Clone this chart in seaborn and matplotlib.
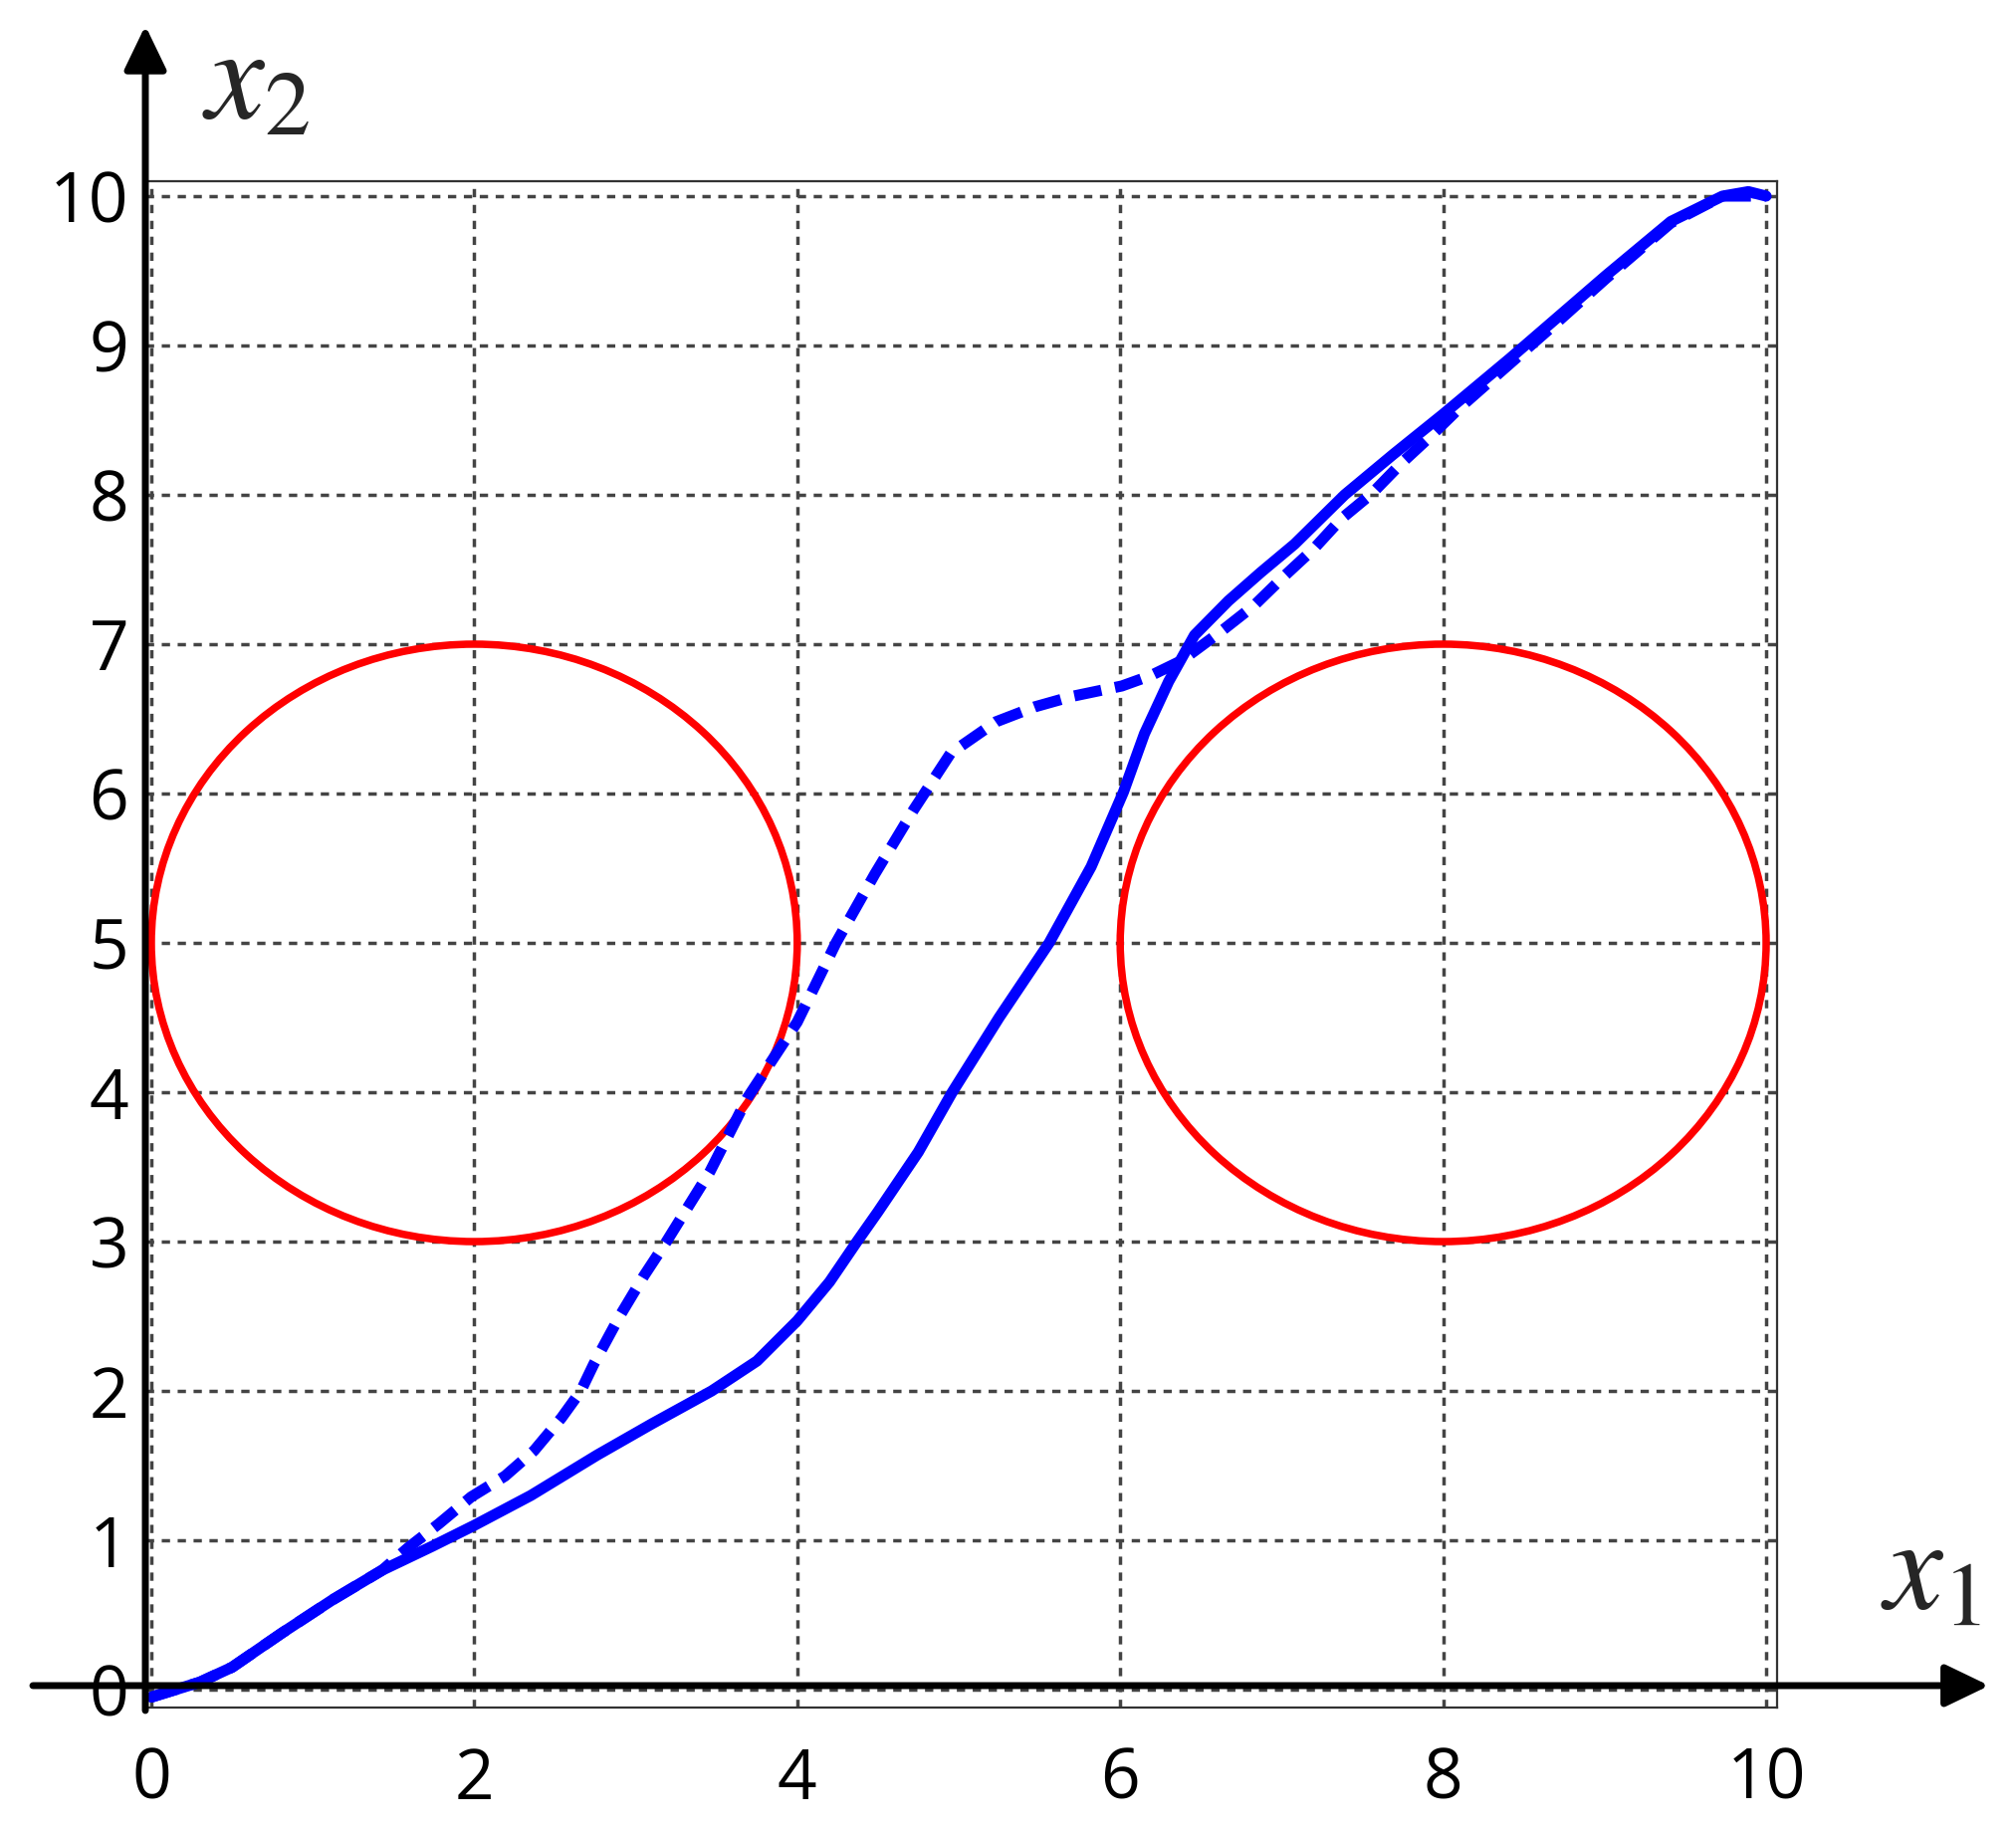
import matplotlib
matplotlib.use('Agg')
import matplotlib.pyplot as plt
from matplotlib.patches import Circle
import pandas as pd
import seaborn as sns

# trajectories (solid and dashed)
solid_x = [0.0, 0.3, 0.5, 0.81, 1.12, 1.43, 1.74, 2.0, 2.35, 2.76, 3.1, 3.47, 3.75,
           4.0, 4.2, 4.37, 4.5, 4.75, 4.96, 5.25, 5.56, 5.82, 6.02, 6.15, 6.3,
           6.46, 6.67, 6.87, 7.08, 7.39, 7.69, 8.0, 8.41, 9.01, 9.41, 9.73, 9.89, 10.0]
solid_y = [-0.05, 0.05, 0.15, 0.38, 0.6, 0.8, 0.96, 1.1, 1.3, 1.57, 1.78, 2.0, 2.2,
           2.47, 2.73, 3.0, 3.2, 3.6, 4.0, 4.5, 5.0, 5.51, 6.01, 6.4, 6.75,
           7.06, 7.29, 7.48, 7.67, 8.0, 8.27, 8.54, 8.91, 9.47, 9.83, 10.0, 10.03, 10.0]

dash_x = [0.0, 0.3, 0.5, 0.81, 1.12, 1.43, 1.59, 1.78, 1.98, 2.19, 2.37, 2.54, 2.66,
          2.74, 2.9, 3.05, 3.19, 3.46, 3.69, 4.0, 4.24, 4.48, 4.72, 4.95, 5.23,
          5.47, 5.7, 6.01, 6.19, 6.38, 6.63, 6.83, 7.02, 7.2, 7.37, 7.56, 7.74,
          7.92, 8.1, 8.31, 8.7, 9.01, 9.41, 9.73, 10.0]
dash_y = [-0.05, 0.05, 0.15, 0.38, 0.6, 0.8, 0.95, 1.11, 1.29, 1.43, 1.6, 1.82, 2.0,
          2.18, 2.5, 2.77, 3.0, 3.47, 3.96, 4.47, 5.0, 5.46, 5.89, 6.27, 6.48,
          6.58, 6.65, 6.72, 6.79, 6.89, 7.09, 7.26, 7.46, 7.64, 7.84, 8.01, 8.21,
          8.39, 8.58, 8.78, 9.15, 9.45, 9.82, 10.0, 10.0]

# obstacles
obst_x = [2, 8]
obst_y = [5, 5]
obst_r = [2, 2]

x_ticks = [0, 2, 4, 6, 8, 10]
y_ticks = [0, 1, 2, 3, 4, 5, 6, 7, 8, 9, 10]

sns.set_style('white')
plt.rcParams['font.family'] = ['Open Sans', 'DejaVu Sans']
plt.rcParams['mathtext.fontset'] = 'stix'

fig = plt.figure(figsize=(20.25, 18.38), dpi=100)
ax = fig.add_axes([0.0721, 0.0669, 0.8094, 0.8341])

for cx, cy, r in zip(obst_x, obst_y, obst_r):
    ax.add_patch(Circle((cx, cy), r, fill=False, edgecolor='#ff0000', linewidth=5.4, zorder=3))

solid = pd.DataFrame({'x': solid_x, 'y': solid_y})
dashed = pd.DataFrame({'x': dash_x, 'y': dash_y})
sns.lineplot(data=dashed, x='x', y='y', ax=ax, sort=False, estimator=None,
             color='#0000ff', linewidth=8, linestyle=(0, (2.5, 1.25)), zorder=4)
sns.lineplot(data=solid, x='x', y='y', ax=ax, sort=False, estimator=None,
             color='#0000ff', linewidth=8, zorder=5)

ax.set_xlim(-0.037, 10.068)
ax.set_ylim(-0.12, 10.1)
ax.set_xticks(x_ticks)
ax.set_yticks(y_ticks)
ax.set_xlabel('')
ax.set_ylabel('')
ax.tick_params(length=0, labelsize=50, labelcolor='black')
ax.tick_params(axis='x', pad=28)
ax.tick_params(axis='y', pad=12)
ax.grid(True, color='#444444', linestyle=(0, (2.4, 2.2)), linewidth=2.5)
ax.set_axisbelow(True)
for sp in ax.spines.values():
    sp.set_color('#333333')
    sp.set_linewidth(1.6)

# coordinate axes arrows
arrow = dict(arrowstyle='-|>,head_length=1.35,head_width=0.65', lw=5,
             color='black', shrinkA=0, shrinkB=0, mutation_scale=20)
ax.annotate('', xy=(0.0721, 0.986), xytext=(0.0721, 0.0653),
            xycoords='figure fraction', textcoords='figure fraction',
            arrowprops=arrow, annotation_clip=False, zorder=10)
ax.annotate('', xy=(0.9867, 0.0789), xytext=(0.0163, 0.0789),
            xycoords='figure fraction', textcoords='figure fraction',
            arrowprops=arrow, annotation_clip=False, zorder=10)

fig.text(0.127, 0.954, r'$x_2$', fontsize=95, ha='center', va='center')
fig.text(0.9575, 0.140, r'$x_1$', fontsize=95, ha='center', va='center')

plt.savefig('out.png', dpi=100)
